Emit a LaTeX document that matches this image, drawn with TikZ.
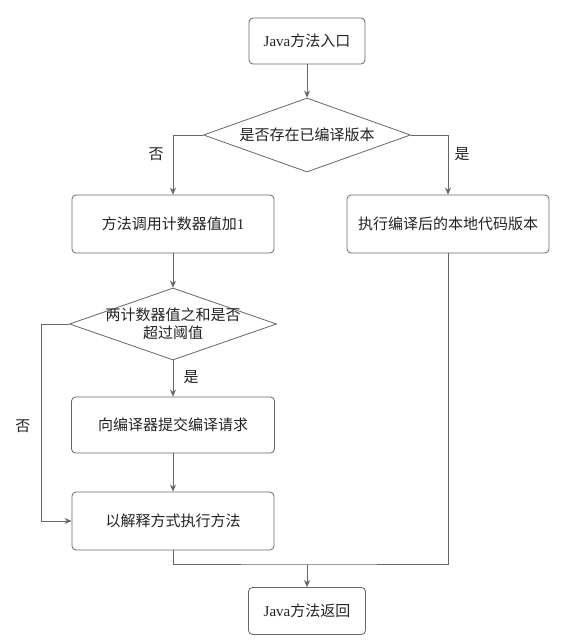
\documentclass[tikz,border=0pt]{standalone}
\usepackage{fontspec}
\setmainfont{Liberation Serif}
\newfontfamily\cjk{Noto Sans CJK SC}
\usetikzlibrary{shapes.geometric,arrows.meta}
\definecolor{edge}{HTML}{666666}
\definecolor{ink}{HTML}{222222}
\tikzset{
	procbox/.style={draw=edge, rounded corners=4pt, text=ink, font=\fontsize{15}{18}\selectfont, inner sep=0pt},
	testbox/.style={draw=edge, shape=diamond, inner sep=0pt, label={[text=ink, font=\fontsize{15}{20}\selectfont\cjk, align=center]center:#1}},
	tag/.style={text=ink, font=\fontsize{15}{18}\selectfont\cjk}
}
\begin{document}
\begin{tikzpicture}[x=1pt, y=-1pt, >={Stealth[length=7pt,width=6pt]}, line width=0.8pt]
	\useasboundingbox (0, 0) rectangle (564, 642);
	\node[procbox, minimum width=116pt, minimum height=46pt] (entry) at (307, 41) {Java{\cjk 方法入口}};
	\node[testbox={是否存在已编译版本}, minimum width=207pt, minimum height=74pt] (hascode) at (307, 135) {};
	\node[procbox, minimum width=202pt, minimum height=58pt] (count) at (173, 224) {{\cjk 方法调用计数器值加}1};
	\node[procbox, minimum width=202pt, minimum height=58pt] (native) at (448, 224) {\cjk 执行编译后的本地代码版本};
	\node[testbox={两计数器值之和是否\\[-2pt]超过阈值}, minimum width=207pt, minimum height=72pt] (limit) at (173, 324) {};
	\node[procbox, minimum width=203pt, minimum height=56pt] (submit) at (173, 425) {\cjk 向编译器提交编译请求};
	\node[procbox, minimum width=202pt, minimum height=58pt] (interp) at (173, 521) {\cjk 以解释方式执行方法};
	\node[procbox, minimum width=117pt, minimum height=47pt] (ret) at (307, 611) {Java{\cjk 方法返回}};
	\node[tag] (no1) at (156, 154) {否};
	\node[tag] (yes1) at (462, 154) {是};
	\node[tag] (yes2) at (191, 377) {是};
	\node[tag] (no2) at (23, 426) {否};
	\coordinate (bend) at (41, 324);
	\coordinate (merge) at (307, 564);
	\draw[edge, ->] (entry) -- (hascode);
	\draw[edge, ->] (hascode.west) -| (count.north);
	\draw[edge, ->] (hascode.east) -| (native.north);
	\draw[edge, ->] (count) -- (limit);
	\draw[edge, ->] (limit) -- (submit);
	\draw[edge, ->] (submit) -- (interp);
	\draw[edge, ->] (limit.west) -- (bend) |- (interp.west);
	\draw[edge] (interp.south) |- (merge) -| (native.south);
	\draw[edge, ->] (merge) -- (ret);
\end{tikzpicture}
\end{document}
